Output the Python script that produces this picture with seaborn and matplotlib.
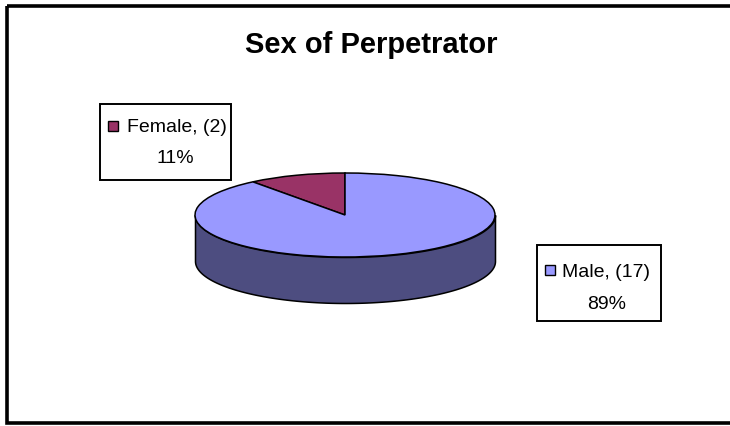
import numpy as np
import matplotlib
matplotlib.use("Agg")
import matplotlib.pyplot as plt
import seaborn as sns
from matplotlib.patches import Rectangle

# ---- data ----
categories = ["Female", "Male"]
counts = [2, 17]
title = "Sex of Perpetrator"

sns.set_style("white")
plt.rcParams['font.family'] = ['Liberation Sans', 'DejaVu Sans']

top_colors = {"Female": "#993366", "Male": "#9999FF"}
side_color = "#4D4D80"

W, H = 730, 427
fig = plt.figure(figsize=(W / 100, H / 100), dpi=100)
fig.patch.set_facecolor("white")

# overlay axes in pixel coordinates
ov = fig.add_axes([0, 0, 1, 1])
ov.set_xlim(0, W)
ov.set_ylim(H, 0)
ov.axis("off")
ov.add_patch(Rectangle((7, 7), 740, 416.5, fill=False, edgecolor="black",
                       linewidth=2.6, zorder=1))

# ---- 3D-like pie ----
cx, cy, rx, ry, depth = 345, 216, 150, 42, 46
d = depth / ry
ax_h = (2 + d) * ry
ax = fig.add_axes([(cx - rx) / W, (H - (cy - ry) - ax_h) / H, 2 * rx / W, ax_h / H])
ax.set_zorder(2)
ax.pie(counts, colors=[top_colors[c] for c in categories], startangle=90,
       counterclock=True, radius=1,
       wedgeprops=dict(edgecolor="black", linewidth=1.1, zorder=3))
t = np.linspace(np.pi, 2 * np.pi, 200)
ax.fill_between(np.cos(t), np.sin(t) - d, np.sin(t), facecolor=side_color,
                edgecolor="black", linewidth=1.1, zorder=2, clip_on=False)
ax.set_aspect("auto")
ax.set_xlim(-1, 1)
ax.set_ylim(-1 - d, 1)
ax.axis("off")
for p in ax.patches:
    p.set_clip_on(False)

# ---- title ----
ov.text(371, 53, title, ha="center", va="baseline", fontsize=21,
        fontweight="bold", color="black")

# ---- data labels ----
total = sum(counts)
label_boxes = {
    "Female": dict(box=(100, 105, 131, 76), mk=(112.5, 127), tx=(127, 132), pc=(175, 163)),
    "Male": dict(box=(537, 246, 124, 76), mk=(550, 271), tx=(562, 277), pc=(607, 309)),
}
for cat, n in zip(categories, counts):
    b = label_boxes[cat]
    x0, y0, w, h = b["box"]
    ov.add_patch(Rectangle((x0, y0), w, h, facecolor="white", edgecolor="black",
                           linewidth=1.4, zorder=4))
    ov.plot([b["mk"][0]], [b["mk"][1]], marker="s", markersize=7.5,
            markerfacecolor=top_colors[cat], markeredgecolor="black",
            markeredgewidth=1.0, zorder=5)
    ov.text(b["tx"][0], b["tx"][1], f"{cat}, ({n})", ha="left", va="baseline",
            fontsize=14, color="black", zorder=5)
    ov.text(b["pc"][0], b["pc"][1], f"{round(100 * n / total)}%", ha="center",
            va="baseline", fontsize=14, color="black", zorder=5)

fig.savefig("out.png", dpi=100, facecolor="white")
